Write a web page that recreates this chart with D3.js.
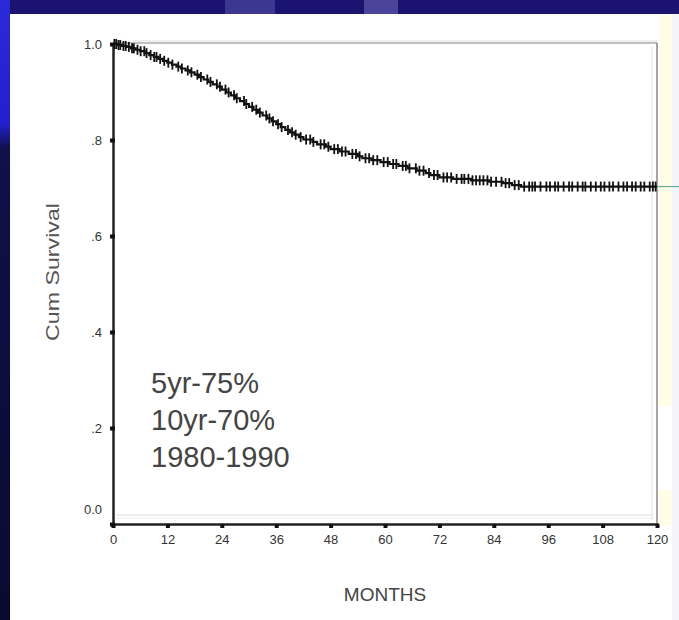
<!DOCTYPE html>
<html>
<head>
<meta charset="utf-8">
<script src="https://cdn.jsdelivr.net/npm/d3@7/dist/d3.min.js"></script>
<style>
  body { margin: 0; background: #0c0a3c; }
  svg { display: block; }
</style>
</head>
<body>
<div id="chart"></div>
<script>
// step drops of the survival curve: month, survival after the drop
var eventMonths = [1, 2, 3, 4, 5, 6, 7, 8, 9, 10, 11, 12, 13, 14, 15, 16, 17, 18, 19, 20,
  21, 22, 23, 24, 25, 26, 27, 28, 29, 30, 31, 32, 33, 34, 35, 36, 37, 38, 39, 40,
  41, 42, 44, 45, 47, 48, 50, 52, 54, 55, 57, 59, 61, 63, 65, 67, 69, 70, 72, 75,
  79, 83, 86, 88, 90];
var eventSurvival = [0.998, 0.996, 0.994, 0.991, 0.988, 0.985, 0.981, 0.977, 0.973, 0.969, 0.965, 0.961, 0.957, 0.953, 0.949, 0.945, 0.941, 0.936, 0.931, 0.926,
  0.921, 0.916, 0.911, 0.905, 0.899, 0.893, 0.887, 0.881, 0.875, 0.869, 0.863, 0.857, 0.851, 0.845, 0.839, 0.833, 0.827, 0.821, 0.816, 0.811,
  0.806, 0.801, 0.796, 0.791, 0.786, 0.781, 0.776, 0.771, 0.766, 0.762, 0.758, 0.754, 0.750, 0.746, 0.741, 0.736, 0.731, 0.727, 0.722, 0.719,
  0.716, 0.713, 0.710, 0.706, 0.703];

// censored observations (months)
var censorMonths = [0.3, 0.7, 1.2, 1.6, 2.3, 2.8, 3.5, 4.2, 4.6, 5.4, 6.1, 6.9, 7.4, 8.3, 9.1, 9.6, 10.4, 11.3, 12.2, 13.1,
  14.4, 15.2, 16.5, 17.3, 18.6, 19.4, 20.8, 21.5, 22.9, 23.6, 24.8, 25.5, 26.7, 27.3, 28.9, 29.4, 30.7, 31.6, 32.4, 33.8,
  34.5, 35.3, 36.4, 37.2, 38.6, 39.5, 40.3, 41.4, 42.6, 43.5, 44.2, 45.8, 46.6, 47.5, 48.8, 49.6, 50.5, 51.3, 52.8, 53.6,
  54.4, 55.7, 56.5, 57.4, 58.3, 59.7, 60.6, 61.8, 62.5, 63.9, 64.6, 65.4, 66.8, 67.6, 68.5, 69.7, 70.8, 71.6, 72.9, 73.7,
  74.6, 75.8, 76.9, 77.5, 78.4, 79.3, 80.1, 80.9, 81.7, 82.6, 83.4, 84.5, 85.7, 86.6, 87.4, 88.6, 89.5, 90.7, 91.8, 92.5,
  93.1, 94.3, 95.6, 96.4, 97.5, 98.2, 99.4, 100.6, 101.3, 102.5, 103.6, 104.2, 105.4, 106.5, 107.6, 108.4, 109.5, 110.3, 111.5, 112.6,
  113.4, 114.5, 115.3, 116.4, 117.2, 118.4, 119.1, 119.7];

var xTicks = [0, 12, 24, 36, 48, 60, 72, 84, 96, 108, 120];
var yTicks = [0, 0.2, 0.4, 0.6, 0.8, 1.0];
var yTickLabels = ["0.0", ".2", ".4", ".6", ".8", "1.0"];
var notes = ["5yr-75%", "10yr-70%", "1980-1990"];

var W = 679, H = 620;
var svg = d3.select("#chart").append("svg")
    .attr("width", W)
    .attr("height", H);

// slide background
var defs = svg.append("defs");
var lg = defs.append("linearGradient").attr("id", "leftStrip")
    .attr("x1", 0).attr("y1", 0).attr("x2", 0).attr("y2", 1);
lg.append("stop").attr("offset", "0").attr("stop-color", "#2a2ad8");
lg.append("stop").attr("offset", "0.2").attr("stop-color", "#2020d0");
lg.append("stop").attr("offset", "0.24").attr("stop-color", "#10104a");
lg.append("stop").attr("offset", "1").attr("stop-color", "#0a0a30");

svg.append("rect").attr("width", W).attr("height", H).attr("fill", "#0c0a3c");
svg.append("rect").attr("width", W).attr("height", 16).attr("fill", "#1a1470");
svg.append("rect").attr("x", 225).attr("y", 0).attr("width", 50).attr("height", 14).attr("fill", "#5450a8").attr("opacity", 0.6);
svg.append("rect").attr("x", 364).attr("y", 0).attr("width", 34).attr("height", 14).attr("fill", "#6a66b8").attr("opacity", 0.6);
svg.append("rect").attr("x", 0).attr("y", 0).attr("width", 10).attr("height", H).attr("fill", "url(#leftStrip)");

// white panel
svg.append("rect").attr("x", 10).attr("y", 14).attr("width", 662).attr("height", 606).attr("fill", "#ffffff");
svg.append("rect").attr("x", 659).attr("y", 16).attr("width", 13).attr("height", 390).attr("fill", "#fffde6");
svg.append("rect").attr("x", 659).attr("y", 490).attr("width", 13).attr("height", 36).attr("fill", "#fffde6");
svg.append("rect").attr("x", 672).attr("y", 14).attr("width", 7).attr("height", 606).attr("fill", "#f4f4fa");

var plotLeft = 113, plotRight = 657, plotTop = 44, plotBottom = 524;
var x = d3.scaleLinear().domain([0, 120]).range([plotLeft, plotRight]);
var y = d3.scaleLinear().domain([0, 1]).range([plotBottom, plotTop]);

// frame lines
var g = svg.append("g");
g.append("line").attr("x1", plotLeft).attr("x2", plotRight).attr("y1", plotTop - 1).attr("y2", plotTop - 1)
    .attr("stroke", "#aaa").attr("stroke-width", 1.5);
g.append("line").attr("x1", plotLeft + 20).attr("x2", plotRight).attr("y1", plotTop - 3).attr("y2", plotTop - 3)
    .attr("stroke", "#ddd").attr("stroke-width", 1);
g.append("line").attr("x1", plotRight).attr("x2", plotRight).attr("y1", plotTop - 1).attr("y2", plotBottom)
    .attr("stroke", "#888").attr("stroke-width", 1.5);
g.append("line").attr("x1", plotRight - 5).attr("x2", plotRight - 5).attr("y1", plotTop + 2).attr("y2", plotBottom - 4)
    .attr("stroke", "#e2e2e2").attr("stroke-width", 1);
g.append("line").attr("x1", plotLeft + 3).attr("x2", plotRight - 4).attr("y1", plotBottom - 9).attr("y2", plotBottom - 9)
    .attr("stroke", "#e0e0e0").attr("stroke-width", 1);
g.append("line").attr("x1", plotLeft + 3).attr("x2", plotRight - 4).attr("y1", plotBottom - 6).attr("y2", plotBottom - 6)
    .attr("stroke", "#ececec").attr("stroke-width", 1);

// x axis
var xAxis = svg.append("g")
    .attr("transform", "translate(0," + plotBottom + ")")
    .call(d3.axisBottom(x).tickValues(xTicks).tickSize(4).tickPadding(7).tickFormat(d3.format("d")));
xAxis.select(".domain").attr("stroke", "#222").attr("stroke-width", 2.5);
xAxis.selectAll(".tick line").attr("stroke", "#111").attr("stroke-width", 4);
xAxis.selectAll(".tick text")
    .attr("fill", "#333")
    .style("font-family", "Liberation Sans, Arial, sans-serif")
    .style("font-size", "13px");

// y axis
var yAxis = svg.append("g")
    .attr("transform", "translate(" + plotLeft + ",0)")
    .call(d3.axisLeft(y).tickValues(yTicks).tickSize(0).tickPadding(11)
      .tickFormat(function(d, i) { return yTickLabels[i]; }));
yAxis.select(".domain").attr("stroke", "#222").attr("stroke-width", 2.5);
yAxis.selectAll(".tick line")
    .attr("x1", -3).attr("x2", 2)
    .attr("stroke", "#111").attr("stroke-width", 4);
yAxis.selectAll(".tick text")
    .attr("fill", "#333")
    .style("font-family", "Liberation Sans, Arial, sans-serif")
    .style("font-size", "13px")
    .attr("dy", function(d) { return d === 0 ? "-0.8em" : "0.32em"; });

// survival step curve
var steps = [{ t: 0, s: 1 }];
eventMonths.forEach(function(t, i) { steps.push({ t: t, s: eventSurvival[i] }); });
steps.push({ t: 120, s: eventSurvival[eventSurvival.length - 1] });

var line = d3.line()
    .x(function(d) { return x(d.t); })
    .y(function(d) { return y(d.s); })
    .curve(d3.curveStepAfter);

svg.append("path")
    .datum(steps)
    .attr("fill", "none")
    .attr("stroke", "#111")
    .attr("stroke-width", 2.2)
    .attr("d", line);

function survivalAt(t) {
  var s = 1;
  for (var i = 0; i < eventMonths.length; i++) {
    if (eventMonths[i] <= t) s = eventSurvival[i];
  }
  return s;
}

svg.append("g").selectAll("line")
    .data(censorMonths)
    .enter().append("line")
    .attr("x1", function(d) { return x(d); })
    .attr("x2", function(d) { return x(d); })
    .attr("y1", function(d) { return y(survivalAt(d)) - 5; })
    .attr("y2", function(d) { return y(survivalAt(d)) + 5; })
    .attr("stroke", "#111")
    .attr("stroke-width", 1.8);

// stray green line to the right edge
svg.append("line")
    .attr("x1", plotRight + 1).attr("x2", W)
    .attr("y1", y(eventSurvival[eventSurvival.length - 1]))
    .attr("y2", y(eventSurvival[eventSurvival.length - 1]))
    .attr("stroke", "#5fae98").attr("stroke-width", 1.2);

// annotation
svg.append("g").selectAll("text")
    .data(notes)
    .enter().append("text")
    .attr("x", 151)
    .attr("y", function(d, i) { return 393 + i * 37; })
    .attr("fill", "#444")
    .style("font-family", "Liberation Sans, Arial, sans-serif")
    .style("font-size", "29px")
    .text(function(d) { return d; });

// axis titles
svg.append("text")
    .attr("transform", "translate(59,272) rotate(-90)")
    .attr("text-anchor", "middle")
    .attr("fill", "#555")
    .style("font-family", "Liberation Sans, Arial, sans-serif")
    .style("font-size", "18px")
    .attr("textLength", 138)
    .attr("lengthAdjust", "spacingAndGlyphs")
    .text("Cum Survival");

svg.append("text")
    .attr("x", 385)
    .attr("y", 601)
    .attr("text-anchor", "middle")
    .attr("fill", "#444")
    .style("font-family", "Liberation Sans, Arial, sans-serif")
    .style("font-size", "19px")
    .text("MONTHS");
</script>
</body>
</html>
